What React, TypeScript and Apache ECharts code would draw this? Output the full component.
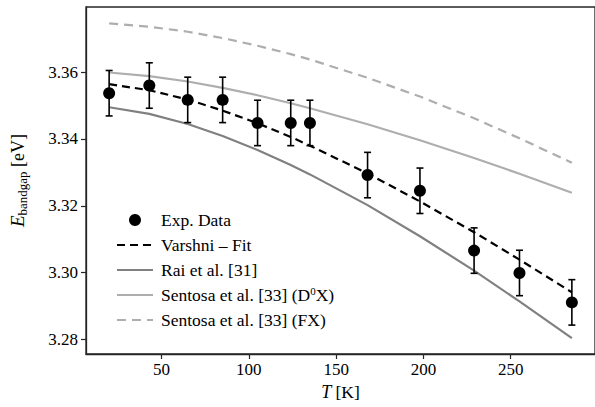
import React, { useEffect, useRef } from "react";
import * as echarts from "echarts";

const tempK = [20, 43, 65, 85, 105, 124, 135, 168, 198, 229, 255, 285];
const expE = [3.3537, 3.356, 3.3517, 3.3517, 3.3448, 3.3448, 3.3448, 3.3292, 3.3245, 3.3066, 3.2999, 3.2911];
const expErr = [0.0068, 0.0068, 0.0068, 0.0068, 0.0068, 0.0068, 0.0068, 0.0068, 0.0068, 0.0068, 0.0068, 0.0068];
const varshniFit = [3.3564, 3.3546, 3.3518, 3.3485, 3.3447, 3.3406, 3.338, 3.3297, 3.3213, 3.3121, 3.3039, 3.2941];
const rai = [3.3495, 3.3475, 3.3445, 3.3409, 3.3367, 3.3322, 3.3294, 3.3202, 3.3109, 3.3006, 3.2914, 3.2804];
const sentosaD0X = [3.3599, 3.3588, 3.3572, 3.3553, 3.3531, 3.3507, 3.3492, 3.3444, 3.3396, 3.3343, 3.3296, 3.3239];
const sentosaFX = [3.3746, 3.3736, 3.3721, 3.3702, 3.3679, 3.3654, 3.3638, 3.3583, 3.3527, 3.3462, 3.3402, 3.3329];
const xTicks = [50, 100, 150, 200, 250];
const yTicks = [3.28, 3.3, 3.32, 3.34, 3.36];

const names = {
  exp: "Exp. Data",
  fit: "Varshni – Fit",
  rai: "Rai et al. [31]",
  d0x: "Sentosa et al. [33] (D0X)",
  fx: "Sentosa et al. [33] (FX)",
};

const FONT = "'Liberation Serif', 'DejaVu Serif', serif";
const AXIS = "#262626";

export default function App() {
  const ref = useRef<HTMLDivElement>(null);
  useEffect(() => {
    if (!ref.current) return;
    const chart = echarts.init(ref.current, null, { renderer: "svg" });
    const zip = (ys: number[]) => tempK.map((t, i) => [t, ys[i]]);
    const noDot = { opacity: 0 };
    chart.setOption({
      animation: false,
      textStyle: { fontFamily: FONT },
      grid: {
        left: 79,
        top: 7,
        right: -2,
        bottom: 53,
        show: true,
        borderColor: AXIS,
        borderWidth: 1.3,
        backgroundColor: "transparent",
      },
      xAxis: {
        type: "value",
        min: 6.75,
        max: 298.25,
        name: "{i|T} [K]",
        nameLocation: "middle",
        nameGap: 29,
        nameTextStyle: {
          fontFamily: FONT,
          fontSize: 17.5,
          color: "#000",
          rich: { i: { fontStyle: "italic", fontSize: 18, fontFamily: FONT, color: "#000" } },
        },
        axisLine: { show: true, lineStyle: { color: AXIS, width: 1.3 } },
        axisTick: { show: true, length: 5, lineStyle: { color: AXIS, width: 1.2 }, customValues: xTicks },
        axisLabel: { fontSize: 17, color: "#000", fontFamily: FONT, margin: 7, customValues: xTicks },
        splitLine: { show: false },
      },
      yAxis: {
        type: "value",
        min: 3.27565,
        max: 3.3795,
        name: "{i|E}{s|bandgap} [eV]",
        nameLocation: "middle",
        nameGap: 57,
        nameTextStyle: {
          fontFamily: FONT,
          fontSize: 18,
          color: "#000",
          rich: {
            i: { fontStyle: "italic", fontSize: 19, fontFamily: FONT, color: "#000" },
            s: { fontSize: 13, fontFamily: FONT, color: "#000", padding: [10, 0, 0, 0] },
          },
        },
        axisLine: { show: true, lineStyle: { color: AXIS, width: 1.3 } },
        axisTick: { show: true, length: 5, lineStyle: { color: AXIS, width: 1.2 }, customValues: yTicks },
        axisLabel: {
          fontSize: 17,
          color: "#000",
          fontFamily: FONT,
          margin: 8,
          customValues: yTicks,
          formatter: (v: number) => v.toFixed(2),
        },
        splitLine: { show: false },
      },
      legend: {
        orient: "vertical",
        left: 111,
        top: 205,
        itemWidth: 36,
        itemHeight: 12,
        itemGap: 5,
        data: [
          { name: names.exp, icon: "circle", itemStyle: { color: "#000", opacity: 1 } },
          { name: names.fit, itemStyle: noDot },
          { name: names.rai, itemStyle: noDot },
          { name: names.d0x, itemStyle: noDot },
          { name: names.fx, itemStyle: noDot },
        ],
        formatter: (n: string) => (n === names.d0x ? "Sentosa et al. [33] (D{sup|0}X)" : n),
        textStyle: {
          fontFamily: FONT,
          fontSize: 17.5,
          color: "#000",
          lineHeight: 20,
          padding: [0, 0, 0, 3],
          rich: {
            sup: { fontSize: 11, fontFamily: FONT, color: "#000", padding: [0, 0, 8, 0] },
          },
        },
      },
      series: [
        {
          name: names.fx,
          type: "line",
          data: zip(sentosaFX),
          symbol: "none",
          lineStyle: { color: "#aeaeae", width: 2.2, type: [9, 6] },
          itemStyle: { color: "#aeaeae" },
          z: 1,
        },
        {
          name: names.d0x,
          type: "line",
          data: zip(sentosaD0X),
          symbol: "none",
          lineStyle: { color: "#aeaeae", width: 2.2 },
          itemStyle: { color: "#aeaeae" },
          z: 1,
        },
        {
          name: names.rai,
          type: "line",
          data: zip(rai),
          symbol: "none",
          lineStyle: { color: "#808080", width: 2.2 },
          itemStyle: { color: "#808080" },
          z: 1,
        },
        {
          name: names.fit,
          type: "line",
          data: zip(varshniFit),
          symbol: "none",
          lineStyle: { color: "#000", width: 2.2, type: [8, 5] },
          itemStyle: { color: "#000" },
          z: 2,
        },
        {
          type: "custom",
          data: tempK.map((t, i) => [t, expE[i] - expErr[i], expE[i] + expErr[i]]),
          renderItem: (_p: any, api: any) => {
            const lo = api.coord([api.value(0), api.value(1)]);
            const hi = api.coord([api.value(0), api.value(2)]);
            const w = 3.5;
            const st = { stroke: "#000", lineWidth: 1.6 };
            return {
              type: "group",
              children: [
                { type: "line", shape: { x1: lo[0], y1: lo[1], x2: hi[0], y2: hi[1] }, style: st },
                { type: "line", shape: { x1: lo[0] - w, y1: lo[1], x2: lo[0] + w, y2: lo[1] }, style: st },
                { type: "line", shape: { x1: hi[0] - w, y1: hi[1], x2: hi[0] + w, y2: hi[1] }, style: st },
              ],
            };
          },
          z: 3,
        },
        {
          name: names.exp,
          type: "scatter",
          data: zip(expE),
          symbol: "circle",
          symbolSize: 12,
          itemStyle: { color: "#000", opacity: 1 },
          z: 4,
        },
      ],
    });
    return () => chart.dispose();
  }, []);
  return (
    <div
      ref={ref}
      style={{ position: "fixed", left: 0, top: 0, width: 595, height: 407, background: "#fff" }}
    />
  );
}
